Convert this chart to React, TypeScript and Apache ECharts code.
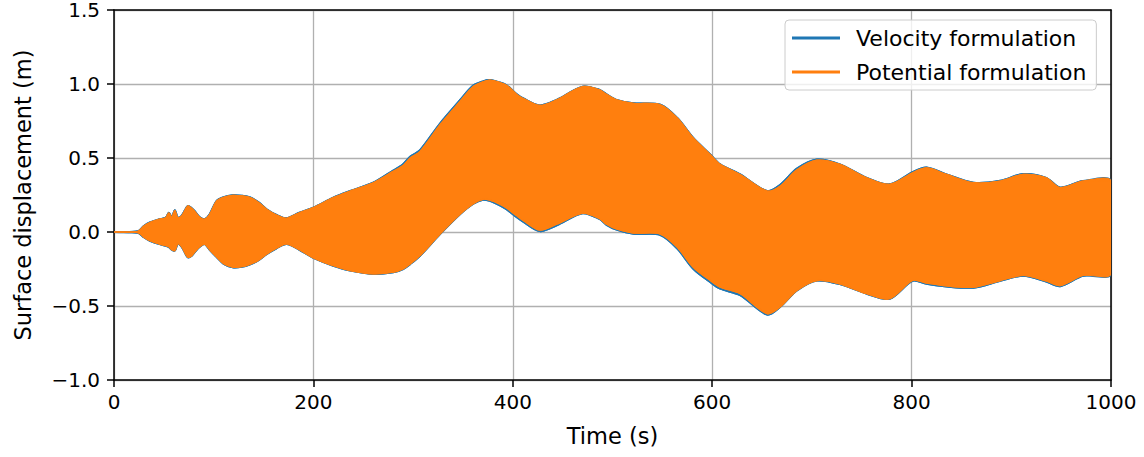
import React, { useEffect, useRef } from "react";
import * as echarts from "echarts";

// Time grid (s) at which the oscillation envelopes were read
const times = [0, 24, 30, 36, 45, 52, 55, 58, 61, 64, 68, 74, 78, 81, 86, 91, 96, 103, 110, 119, 128, 136, 145, 153, 163, 173, 186, 200, 220, 237, 260, 280, 290, 297, 307, 327, 347, 360, 370, 377, 387, 394, 404, 410, 427, 444, 470, 487, 494, 504, 521, 548, 565, 581, 598, 608, 628, 655, 668, 685, 705, 728, 755, 778, 801, 815, 835, 862, 889, 912, 935, 949, 972, 1000];

// Potential formulation: upper / lower envelope of surface displacement (m)
const potentialUpper = [0.0, 0.005, 0.04, 0.064, 0.085, 0.097, 0.13, 0.1, 0.147, 0.097, 0.11, 0.176, 0.16, 0.14, 0.1, 0.087, 0.12, 0.21, 0.235, 0.248, 0.245, 0.235, 0.2, 0.154, 0.115, 0.093, 0.13, 0.165, 0.232, 0.277, 0.333, 0.41, 0.45, 0.5, 0.545, 0.725, 0.882, 0.982, 1.015, 1.027, 1.01, 0.99, 0.93, 0.904, 0.855, 0.893, 0.982, 0.96, 0.93, 0.893, 0.87, 0.86, 0.77, 0.635, 0.524, 0.457, 0.389, 0.277, 0.31, 0.42, 0.485, 0.457, 0.366, 0.322, 0.4, 0.433, 0.389, 0.333, 0.344, 0.389, 0.366, 0.3, 0.344, 0.344];
const potentialLower = [0.0, -0.005, -0.035, -0.059, -0.08, -0.093, -0.1, -0.12, -0.126, -0.08, -0.1, -0.171, -0.16, -0.135, -0.1, -0.082, -0.12, -0.17, -0.215, -0.238, -0.235, -0.22, -0.19, -0.15, -0.11, -0.081, -0.12, -0.175, -0.228, -0.261, -0.283, -0.272, -0.25, -0.217, -0.16, -0.014, 0.12, 0.19, 0.221, 0.215, 0.188, 0.16, 0.109, 0.08, 0.013, 0.052, 0.127, 0.09, 0.052, 0.02, -0.007, -0.014, -0.104, -0.239, -0.328, -0.373, -0.417, -0.552, -0.507, -0.395, -0.328, -0.35, -0.417, -0.451, -0.328, -0.345, -0.365, -0.373, -0.328, -0.294, -0.33, -0.362, -0.294, -0.283];

// Velocity formulation: upper / lower envelope (m)
const velocityUpper = [0.0, 0.005, 0.04, 0.064, 0.085, 0.097, 0.13, 0.1, 0.147, 0.097, 0.11, 0.176, 0.16, 0.14, 0.1, 0.087, 0.12, 0.21, 0.235, 0.248, 0.245, 0.235, 0.2, 0.154, 0.115, 0.093, 0.13, 0.165, 0.232, 0.277, 0.333, 0.415, 0.458, 0.508, 0.553, 0.733, 0.89, 0.988, 1.018, 1.027, 1.01, 0.99, 0.93, 0.904, 0.855, 0.893, 0.982, 0.96, 0.93, 0.893, 0.87, 0.86, 0.77, 0.635, 0.524, 0.457, 0.389, 0.277, 0.318, 0.428, 0.49, 0.457, 0.366, 0.322, 0.405, 0.436, 0.389, 0.333, 0.346, 0.392, 0.366, 0.3, 0.344, 0.344];
const velocityLower = [0.0, -0.005, -0.035, -0.059, -0.08, -0.093, -0.1, -0.12, -0.126, -0.08, -0.1, -0.171, -0.16, -0.135, -0.1, -0.082, -0.12, -0.17, -0.215, -0.238, -0.235, -0.22, -0.19, -0.15, -0.11, -0.081, -0.12, -0.175, -0.228, -0.261, -0.283, -0.272, -0.25, -0.217, -0.16, -0.014, 0.12, 0.19, 0.218, 0.21, 0.18, 0.152, 0.1, 0.072, 0.006, 0.045, 0.127, 0.088, 0.048, 0.016, -0.012, -0.02, -0.112, -0.248, -0.338, -0.383, -0.427, -0.558, -0.507, -0.395, -0.328, -0.352, -0.417, -0.451, -0.33, -0.35, -0.368, -0.376, -0.33, -0.296, -0.334, -0.366, -0.296, -0.285];

const xTicks = { min: 0, max: 1000, interval: 200 };
const yTicks = { min: -1.0, max: 1.5, interval: 0.5 };

const BLUE = "#1f77b4";
const ORANGE = "#ff7f0e";
const FONT = "DejaVu Sans";

function bandSeries(name: string, color: string, lower: number[], upper: number[], strokeWidth: number) {
  const data = times.map((t, i) => [t, lower[i], upper[i]]);
  return {
    name,
    type: "custom",
    coordinateSystem: "cartesian2d",
    data,
    encode: { x: 0, y: [1, 2] },
    itemStyle: { color },
    clip: true,
    renderItem: (params: any, api: any) => {
      if (params.dataIndex !== 0) return null;
      const top = data.map((d) => api.coord([d[0], d[2]]));
      const bottom = data.map((d) => api.coord([d[0], d[1]])).reverse();
      const style = { fill: "none", stroke: color, lineWidth: strokeWidth, lineJoin: "round" };
      return {
        type: "group",
        silent: true,
        children: [
          {
            type: "polygon",
            shape: { points: top.concat(bottom), smooth: 0.3 },
            style: { fill: color, stroke: color, lineWidth: strokeWidth, lineJoin: "round" },
          },
          { type: "polyline", shape: { points: top, smooth: 0.3 }, style },
          { type: "polyline", shape: { points: bottom, smooth: 0.3 }, style },
        ],
      };
    },
  };
}

export default function App() {
  const ref = useRef<HTMLDivElement>(null);
  useEffect(() => {
    if (!ref.current) return;
    const chart = echarts.init(ref.current, undefined, { renderer: "svg" });
    const labelStyle = { fontFamily: FONT, fontSize: 20, color: "#000" };
    const nameStyle = { fontFamily: FONT, fontSize: 22.5, color: "#000" };
    chart.setOption({
      animation: false,
      backgroundColor: "#fff",
      grid: { left: 114, right: 33, top: 9, bottom: 77, containLabel: false },
      legend: {
        data: [
          { name: "Velocity formulation", itemStyle: { color: BLUE } },
          { name: "Potential formulation", itemStyle: { color: ORANGE } },
        ],
        orient: "vertical",
        left: 785,
        top: 20,
        icon: "rect",
        itemWidth: 48,
        itemHeight: 3,
        itemGap: 10,
        padding: [6, 10, 6, 7],
        borderColor: "#cccccc",
        borderWidth: 1,
        borderRadius: 4,
        backgroundColor: "rgba(255,255,255,0.8)",
        textStyle: { fontFamily: FONT, fontSize: 22, color: "#000", lineHeight: 24, padding: [0, 0, 0, 11] },
      },
      xAxis: [
        {
          type: "value",
          ...xTicks,
          name: "Time (s)",
          nameLocation: "middle",
          nameGap: 44,
          nameTextStyle: nameStyle,
          axisLine: { show: true, onZero: false, lineStyle: { color: "#000", width: 1.5 } },
          axisTick: { show: true, inside: false, length: 7, lineStyle: { color: "#000", width: 1.5 } },
          axisLabel: { ...labelStyle, margin: 12, formatter: (v: number) => String(v) },
          splitLine: { show: true, lineStyle: { color: "#b0b0b0", width: 1.3 } },
        },
        {
          type: "value",
          position: "top",
          ...xTicks,
          axisLine: { show: true, onZero: false, lineStyle: { color: "#000", width: 1.5 } },
          axisTick: { show: false },
          axisLabel: { show: false },
          splitLine: { show: false },
        },
      ],
      yAxis: [
        {
          type: "value",
          ...yTicks,
          name: "Surface displacement (m)",
          nameLocation: "middle",
          nameGap: 80,
          nameTextStyle: nameStyle,
          axisLine: { show: true, onZero: false, lineStyle: { color: "#000", width: 1.5 } },
          axisTick: { show: true, inside: false, length: 7, lineStyle: { color: "#000", width: 1.5 } },
          axisLabel: {
            ...labelStyle,
            lineHeight: 16,
            margin: 14,
            formatter: (v: number) => v.toFixed(1).replace("-", "\u2212"),
          },
          splitLine: { show: true, lineStyle: { color: "#b0b0b0", width: 1.3 } },
        },
        {
          type: "value",
          position: "right",
          ...yTicks,
          axisLine: { show: true, onZero: false, lineStyle: { color: "#000", width: 1.5 } },
          axisTick: { show: false },
          axisLabel: { show: false },
          splitLine: { show: false },
        },
      ],
      series: [
        bandSeries("Velocity formulation", BLUE, velocityLower, velocityUpper, 2),
        bandSeries("Potential formulation", ORANGE, potentialLower, potentialUpper, 1.2),
      ],
    });
    return () => chart.dispose();
  }, []);
  return (
    <div
      ref={ref}
      style={{ position: "absolute", left: 0, top: 0, width: 1144, height: 457 }}
    />
  );
}
